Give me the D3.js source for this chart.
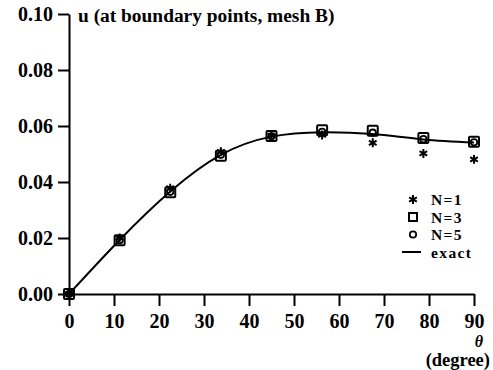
<!DOCTYPE html>
<html>
<head>
<meta charset="utf-8">
<script src="https://cdn.jsdelivr.net/npm/d3@7"></script>
<style>
  body { margin: 0; background: #fff; }
  svg text { font-family: "Liberation Serif", "DejaVu Serif", serif; font-weight: bold; fill: #000; }
</style>
</head>
<body>
<div id="chart"></div>
<script>
const width = 493;
const height = 370;

// boundary angles (degree)
const theta = [0, 11.25, 22.5, 33.75, 45, 56.25, 67.5, 78.75, 90];
const uN1 = [0, 0.0200, 0.0378, 0.0508, 0.0566, 0.0568, 0.0540, 0.0502, 0.0481];
const uN3 = [0, 0.0192, 0.0363, 0.0494, 0.0564, 0.0585, 0.0583, 0.0557, 0.0544];
const uN5 = [0, 0.0192, 0.0365, 0.0497, 0.0563, 0.0579, 0.0576, 0.0553, 0.0542];
const uExact = [0, 0.0193, 0.0366, 0.0497, 0.0562, 0.0578, 0.0571, 0.0552, 0.0541];

const xTicks = [0, 10, 20, 30, 40, 50, 60, 70, 80, 90];
const yTicks = [0, 0.02, 0.04, 0.06, 0.08, 0.10];
const legendLabels = ['N=1', 'N=3', 'N=5', 'exact'];

const x = d3.scaleLinear().domain([0, 90]).range([69, 474]);
const y = d3.scaleLinear().domain([0, 0.1]).range([294, 14]);

const svg = d3.select('#chart').append('svg')
    .attr('width', width)
    .attr('height', height);

const xAxis = svg.append('g')
    .attr('transform', `translate(0,${y(0)})`)
    .call(d3.axisBottom(x).tickValues(xTicks).tickSize(12).tickSizeOuter(0).tickFormat(d3.format('d')));
xAxis.selectAll('text').attr('font-size', 20).attr('dy', '0.95em');

const yAxis = svg.append('g')
    .attr('transform', `translate(${x(0)},0)`)
    .call(d3.axisLeft(y).tickValues(yTicks).tickSize(11).tickSizeOuter(0).tickFormat(d3.format('.2f')));
yAxis.selectAll('text').attr('font-size', 20).attr('dx', '-0.1em').attr('dy', '0.33em');

svg.selectAll('.domain, .tick line').attr('stroke', '#000').attr('stroke-width', 2);

// exact curve
const line = d3.line()
    .x((d, i) => x(theta[i]))
    .y(d => y(d))
    .curve(d3.curveNatural);

svg.append('path')
    .datum(uExact)
    .attr('fill', 'none')
    .attr('stroke', '#000')
    .attr('stroke-width', 2)
    .attr('d', line);

const star = d3.symbol().type(d3.symbolAsterisk).size(55);

svg.append('g').selectAll('rect')
  .data(uN3)
  .join('rect')
    .attr('x', (d, i) => x(theta[i]) - 5)
    .attr('y', d => y(d) - 5)
    .attr('width', 10)
    .attr('height', 10)
    .attr('rx', 1)
    .attr('fill', 'none')
    .attr('stroke', '#000')
    .attr('stroke-width', 2);

svg.append('g').selectAll('circle')
  .data(uN5)
  .join('circle')
    .attr('cx', (d, i) => x(theta[i]))
    .attr('cy', d => y(d))
    .attr('r', 3.2)
    .attr('fill', 'none')
    .attr('stroke', '#000')
    .attr('stroke-width', 1.8);

svg.append('g').selectAll('path')
  .data(uN1)
  .join('path')
    .attr('transform', (d, i) => `translate(${x(theta[i])},${y(d)})`)
    .attr('d', star)
    .attr('fill', 'none')
    .attr('stroke', '#000')
    .attr('stroke-width', 2);

// title
svg.append('text')
    .attr('x', 78)
    .attr('y', 22)
    .attr('font-size', 19.4)
    .text('u (at boundary points, mesh B)');

// axis label
svg.append('text')
    .attr('x', 479)
    .attr('y', 346.5)
    .attr('text-anchor', 'middle')
    .attr('font-size', 16)
    .attr('font-style', 'italic')
    .text('θ');
svg.append('text')
    .attr('x', 490)
    .attr('y', 366.3)
    .attr('text-anchor', 'end')
    .attr('font-size', 18.5)
    .text('(degree)');

// legend
const legend = svg.append('g');
const ly = [199.5, 217, 234.5, 252];
legend.append('path')
    .attr('transform', `translate(413,${ly[0]})`)
    .attr('d', star)
    .attr('fill', 'none')
    .attr('stroke', '#000')
    .attr('stroke-width', 2);
legend.append('rect')
    .attr('x', 409).attr('y', ly[1] - 4)
    .attr('width', 8).attr('height', 8)
    .attr('fill', 'none').attr('stroke', '#000').attr('stroke-width', 2);
legend.append('circle')
    .attr('cx', 413).attr('cy', ly[2]).attr('r', 3.2)
    .attr('fill', 'none').attr('stroke', '#000').attr('stroke-width', 1.8);
legend.append('line')
    .attr('x1', 402).attr('x2', 421).attr('y1', ly[3]).attr('y2', ly[3])
    .attr('stroke', '#000').attr('stroke-width', 2);
legend.selectAll('text')
  .data(legendLabels)
  .join('text')
    .attr('x', 431)
    .attr('y', (d, i) => ly[i] + 5.5)
    .attr('font-size', 15.5)
    .attr('letter-spacing', 1.4)
    .text(d => d);
</script>
</body>
</html>
